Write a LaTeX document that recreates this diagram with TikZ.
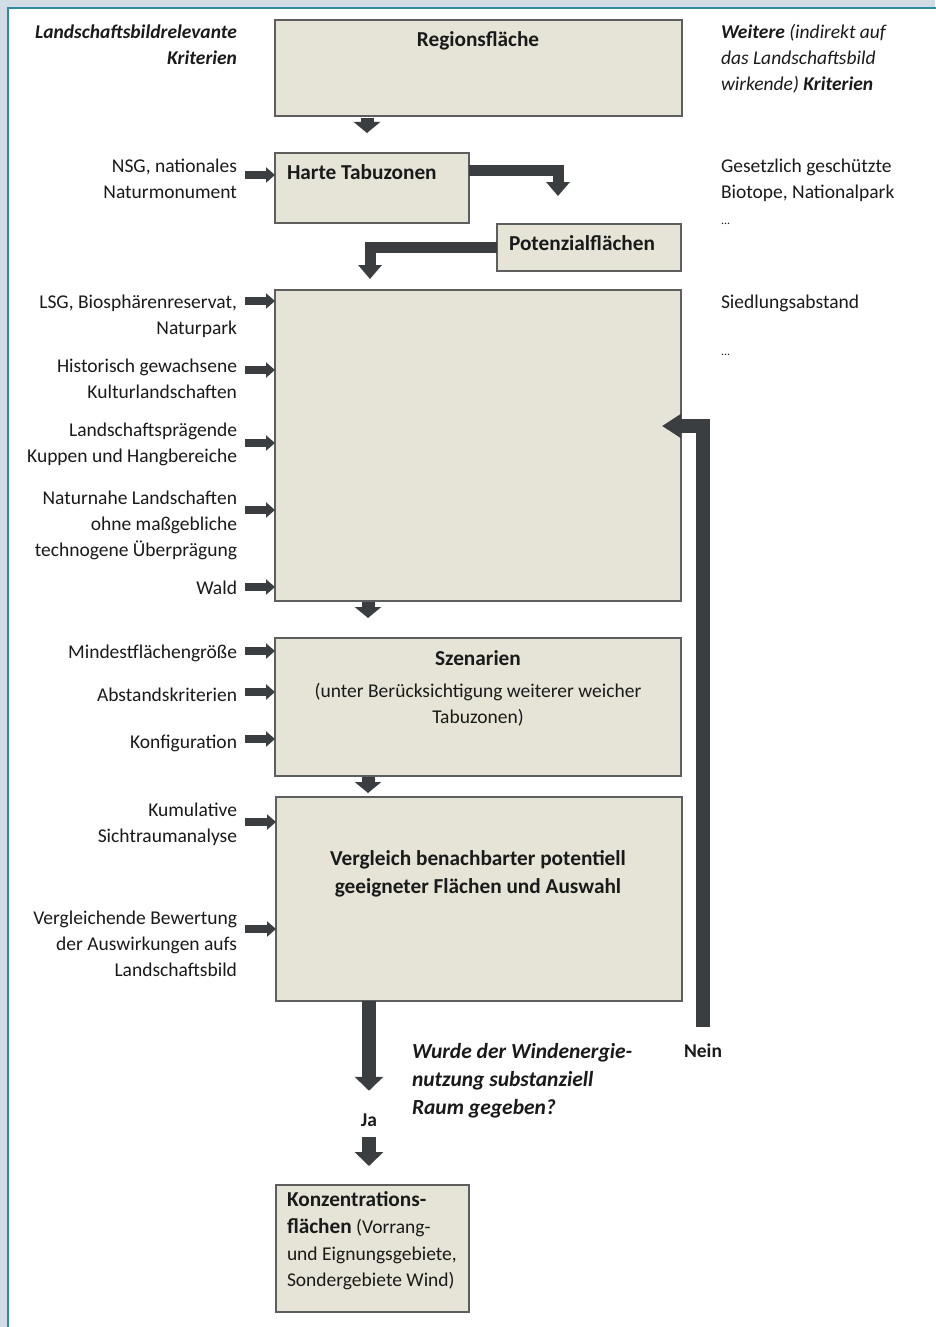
\documentclass[tikz,border=0pt]{standalone}
\usepackage{fontspec}
\setmainfont{Carlito}
\usetikzlibrary{arrows.meta}
\definecolor{boxfill}{HTML}{E6E4D6}
\definecolor{boxline}{HTML}{5E5E5E}
\definecolor{arrc}{HTML}{3B3E41}
\definecolor{bgc}{HTML}{D2DCE4}
\definecolor{frameline}{HTML}{2F8BA5}
\definecolor{txtc}{HTML}{1A1A1A}
\begin{document}
\begin{tikzpicture}[x=1pt,y=-1pt,
  every node/.style={inner sep=0pt,outer sep=0pt},
  txt/.style={font=\fontsize{19.5}{26}\selectfont,text=txtc},
  btxt/.style={text=txtc,font=\fontsize{21.3}{26}\selectfont\bfseries},
  labl/.style={txt,align=right,anchor=north east},
  labr/.style={txt,align=left,anchor=north west},
  bx/.style={draw=boxline,line width=1.6pt,fill=boxfill,anchor=north west},
  la/.style={draw=arrc,line width=8pt,-{Triangle[width=15pt,length=9pt]}},
  sa/.style={draw=arrc,line width=13pt,-{Triangle[width=26pt,length=11pt]}},
  ea/.style={draw=arrc,line width=11pt,-{Triangle[width=23pt,length=14pt]}},
  ba/.style={draw=arrc,line width=14pt,-{Triangle[width=28pt,length=14pt]}},
  na/.style={draw=arrc,line width=14pt,-{Triangle[width=23pt,length=19pt]}}
]
\useasboundingbox (0,0) rectangle (935,1327);
\fill[bgc] (0,0) rectangle (935,1327);
\filldraw[fill=white,draw=frameline,line width=2pt] (8,8) rectangle (960,1360);

% boxes
\node[bx,minimum width=407pt,minimum height=96pt] (reg) at (275,20) {};
\node[bx,minimum width=194pt,minimum height=70pt] (harte) at (275,153) {};
\node[bx,minimum width=184pt,minimum height=47pt] (pot) at (497,224) {};
\node[bx,minimum width=406pt,minimum height=311pt] (big) at (275,290) {};
\node[bx,minimum width=406pt,minimum height=138pt] (szen) at (275,638) {};
\node[bx,minimum width=406pt,minimum height=204pt] (ver) at (276,797) {};
\node[bx,minimum width=193pt,minimum height=127pt] (konz) at (276,1185) {};

% box texts
\node[btxt,anchor=north] (regt) at (478,28) {\strut Regionsfläche};
\node[btxt,anchor=north west] (hartet) at (287,161) {\strut Harte Tabuzonen};
\node[btxt,anchor=north] (pott) at (582,232) {\strut Potenzialflächen};
\node[btxt,anchor=north] (szent) at (478,647) {\strut Szenarien};
\node[txt,align=center,anchor=north] (szent2) at (478,679) {\strut(unter Berücksichtigung weiterer weicher\\Tabuzonen)};
\node[btxt,font=\fontsize{21.3}{28}\selectfont\bfseries,align=center,anchor=north] (vert) at (478,846) {\strut Vergleich benachbarter potentiell\\geeigneter Flächen und Auswahl};
\node[txt,font=\fontsize{19.5}{26.7}\selectfont,align=left,anchor=north west] (konzt) at (287,1188) {\strut{\fontsize{21.3}{26.7}\selectfont\bfseries Konzentrations-}\\{\fontsize{21.3}{26.7}\selectfont\bfseries flächen} (Vorrang-\\und Eignungsgebiete,\\Sondergebiete Wind)};

% left labels
\node[labl,font=\fontsize{19.5}{26}\selectfont\bfseries\itshape] (lk) at (237,20) {\strut Landschaftsbildrelevante\\Kriterien};
\node[labl] (nsg) at (237,154) {\strut NSG, nationales\\Naturmonument};
\node[labl] (lsg) at (237,290) {\strut LSG, Biosphärenreservat,\\Naturpark};
\node[labl] (hist) at (237,354) {\strut Historisch gewachsene\\Kulturlandschaften};
\node[labl] (kup) at (237,418) {\strut Landschaftsprägende\\Kuppen und Hangbereiche};
\node[labl] (nat) at (237,486) {\strut Naturnahe Landschaften\\ohne maßgebliche\\technogene Überprägung};
\node[labl] (wald) at (237,576) {\strut Wald};
\node[labl] (mind) at (237,640) {\strut Mindestflächengröße};
\node[labl] (abst) at (237,683) {\strut Abstandskriterien};
\node[labl] (konf) at (237,730) {\strut Konfiguration};
\node[labl] (kum) at (237,798) {\strut Kumulative\\Sichtraumanalyse};
\node[labl] (vgl) at (237,906) {\strut Vergleichende Bewertung\\der Auswirkungen aufs\\Landschaftsbild};

% right labels
\node[labr] (wk) at (721,20) {\strut\textbf{\textit{Weitere}} \textit{(indirekt auf}\\\textit{das Landschaftsbild}\\\textit{wirkende)} \textbf{\textit{Kriterien}}};
\node[labr] (ges) at (721,154) {\strut Gesetzlich geschützte\\Biotope, Nationalpark\\{\fontsize{12}{14}\selectfont ...}};
\node[labr] (sied) at (721,290) {\strut Siedlungsabstand};
\node[labr] (dots) at (721,337) {\strut{\fontsize{12}{14}\selectfont ...}};

% question, Ja, Nein
\node[btxt,font=\fontsize{21.5}{28}\selectfont\bfseries\itshape,align=left,anchor=north west] (q) at (412,1039) {\strut Wurde der Windenergie-\\nutzung substanziell\\Raum gegeben?};
\node[txt,font=\fontsize{19.5}{26}\selectfont\bfseries,anchor=mid] (ja) at (369,1124) {Ja};
\node[txt,font=\fontsize{19.5}{26}\selectfont\bfseries,anchor=mid] (nein) at (703,1055) {Nein};

% coordinates
\coordinate (i1) at (275,175);
\coordinate (i2) at (275,301);
\coordinate (i3) at (275,370);
\coordinate (i4) at (275,443);
\coordinate (i5) at (275,510);
\coordinate (i6) at (275,587);
\coordinate (i7) at (275,651);
\coordinate (i8) at (275,692);
\coordinate (i9) at (275,739);
\coordinate (i10) at (276,822);
\coordinate (i11) at (276,929);
\coordinate (cA) at (367,0);
\coordinate (cB) at (368,0);
\coordinate (h1) at (558,196);
\coordinate (p1) at (370,279);
\coordinate (n1) at (662,426);

% left arrows
\draw[la,shorten <=8pt] (i1 -| nsg.east) -- (i1);
\draw[la,shorten <=8pt] (i2 -| lsg.east) -- (i2);
\draw[la,shorten <=8pt] (i3 -| hist.east) -- (i3);
\draw[la,shorten <=8pt] (i4 -| kup.east) -- (i4);
\draw[la,shorten <=8pt] (i5 -| nat.east) -- (i5);
\draw[la,shorten <=8pt] (i6 -| wald.east) -- (i6);
\draw[la,shorten <=8pt] (i7 -| mind.east) -- (i7);
\draw[la,shorten <=8pt] (i8 -| abst.east) -- (i8);
\draw[la,shorten <=8pt] (i9 -| konf.east) -- (i9);
\draw[la,shorten <=8pt] (i10 -| kum.east) -- (i10);
\draw[la,shorten <=8pt] (i11 -| vgl.east) -- (i11);

% short down arrows
\draw[sa,shorten <=2pt,shorten >=20pt] (reg.south -| cA) -- (harte.north -| cA);
\draw[sa,shorten <=1pt,shorten >=20pt] (big.south -| cB) -- (szen.north -| cB);
\draw[sa,shorten <=1pt,shorten >=4pt] (szen.south -| cB) -- (ver.north -| cB);

% elbow arrows
\draw[ea] ([yshift=18pt]harte.east) -| (h1);
\draw[ea] (pot.west) -| (p1);

% long arrows
\draw[ba,shorten >=23pt] (ver.south -| ja) -- (ja.north);
\draw[ba,shorten <=10pt,shorten >=19pt] (ja.south) -- (konz.north -| ja);
\draw[na] ([yshift=17pt]nein.north) |- (n1);
\end{tikzpicture}
\end{document}
